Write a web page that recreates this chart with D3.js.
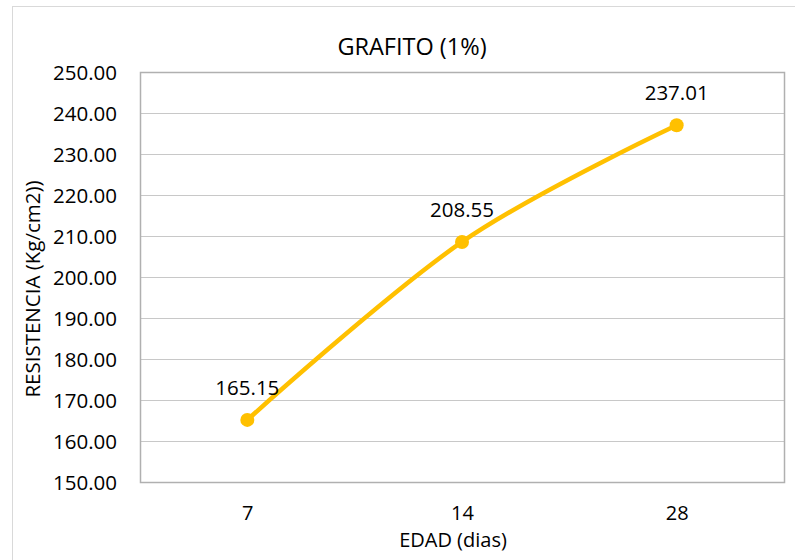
<!DOCTYPE html>
<html><head><meta charset="utf-8">
<script src="https://cdn.jsdelivr.net/npm/d3@7"></script>
<style>body{margin:0;background:#fff}svg{display:block}</style>
</head><body>
<svg id="c" width="795" height="560"></svg>
<script>
const categories = ["7", "14", "28"];
const values = [165.15, 208.55, 237.01];
const yTicks = [150, 160, 170, 180, 190, 200, 210, 220, 230, 240, 250];
const title = "GRAFITO (1%)";
const xTitle = "EDAD (dias)";
const yTitle = "RESISTENCIA (Kg/cm2))";

const font = "'Open Sans', sans-serif";
const fs = 20.5;
const svg = d3.select("#c");
const m = {l: 140, r: 784, t: 72, b: 482};

svg.append("rect").attr("x", 12.5).attr("y", 6.5).attr("width", 800).attr("height", 600)
  .attr("fill", "#fff").attr("stroke", "#d9d9d9").attr("stroke-width", 1);

const x = d3.scalePoint().domain(categories).range([m.l, m.r]).padding(0.5);
const y = d3.scaleLinear().domain([150, 250]).range([m.b, m.t]);

// gridlines
svg.append("g").selectAll("line").data(yTicks).join("line")
  .attr("x1", m.l).attr("x2", m.r)
  .attr("y1", d => Math.round(y(d)) + 0.5).attr("y2", d => Math.round(y(d)) + 0.5)
  .attr("stroke", "#c8c8c8").attr("stroke-width", 1);

svg.append("rect").attr("x", m.l + 0.5).attr("y", m.t + 0.5)
  .attr("width", m.r - m.l).attr("height", m.b - m.t)
  .attr("fill", "none").attr("stroke", "#b0b0b0").attr("stroke-width", 1.5);

// y axis labels
const yAxis = d3.axisLeft(y).tickValues(yTicks).tickFormat(d3.format(".2f")).tickSize(0).tickPadding(0);
const gy = svg.append("g").attr("transform", `translate(${m.l - 23},0)`).call(yAxis);
gy.select(".domain").remove();
gy.selectAll("text").attr("font-family", font).attr("font-size", fs).attr("fill", "#000").attr("dy", "0.36em");

// x axis labels
const xAxis = d3.axisBottom(x).tickSize(0).tickPadding(0);
const gx = svg.append("g").attr("transform", `translate(0,519.5)`).call(xAxis);
gx.select(".domain").remove();
gx.selectAll("text").attr("font-family", font).attr("font-size", 20).attr("fill", "#000").attr("dy", 0);

// line
const pts = categories.map((c, i) => [x(c), y(values[i])]);
svg.append("path").datum(pts)
  .attr("d", d3.line().curve(d3.curveCatmullRom.alpha(0)))
  .attr("fill", "none").attr("stroke", "#FFC000").attr("stroke-width", 4.5)
  .attr("stroke-linecap", "round");

svg.append("g").selectAll("circle").data(pts).join("circle")
  .attr("cx", d => d[0]).attr("cy", d => d[1]).attr("r", 7).attr("fill", "#FFC000");

svg.append("g").selectAll("text").data(categories).join("text")
  .attr("x", c => x(c)).attr("y", (c, i) => y(values[i]) - 25)
  .attr("text-anchor", "middle").attr("font-family", font).attr("font-size", fs).attr("fill", "#000")
  .text((c, i) => values[i].toFixed(2));

svg.append("text").attr("x", 412).attr("y", 55).attr("text-anchor", "middle")
  .attr("font-family", font).attr("font-size", 23.5).attr("fill", "#000").text(title);

svg.append("text").attr("x", 453).attr("y", 547).attr("text-anchor", "middle")
  .attr("font-family", font).attr("font-size", 20).attr("fill", "#000").text(xTitle);

svg.append("text").attr("transform", "translate(40,289) rotate(-90)").attr("text-anchor", "middle")
  .attr("font-family", font).attr("font-size", fs).attr("fill", "#000").text(yTitle);
</script>
</body></html>
